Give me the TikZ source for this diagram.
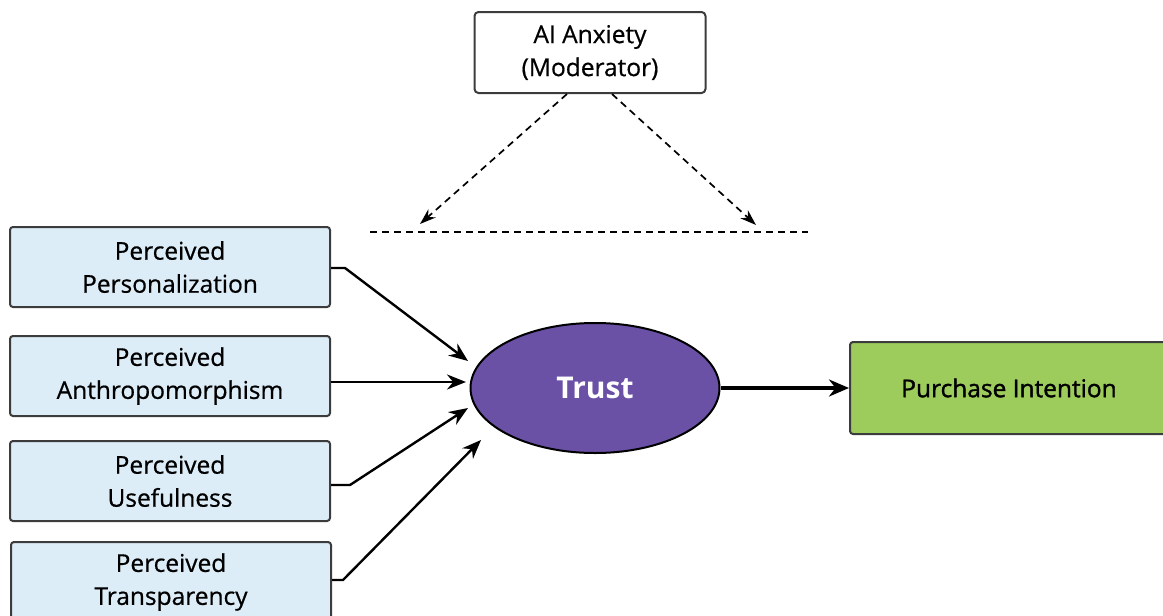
\documentclass[tikz,border=0pt]{standalone}
\usepackage{fontspec}
\setmainfont{Open Sans}
\newfontfamily\medfont{Open Sans}[FakeBold=0.6]
\newfontfamily\semifont{Open Sans}[FakeBold=1.4]
\usetikzlibrary{arrows.meta,shapes.geometric}
\definecolor{boxblue}{HTML}{DCEDF8}
\definecolor{edgegray}{HTML}{3C3C3C}
\definecolor{trustpurple}{HTML}{6A51A6}
\definecolor{piGreen}{HTML}{9DCB5C}
\tikzset{
  factor/.style={draw=edgegray, line width=2pt, fill=boxblue, rounded corners=3pt,
    minimum width=320, minimum height=80, align=center,
    font=\medfont\fontsize{24.5}{33}\selectfont},
  modbox/.style={draw=edgegray, line width=2pt, fill=white, rounded corners=4pt,
    minimum width=231, minimum height=81, align=center,
    font=\medfont\fontsize{24.5}{33}\selectfont},
  conn/.style={line width=2.4pt, -{Stealth[length=19pt,width=15pt]}},
  dconn/.style={line width=1.7pt, dash pattern=on 7pt off 5pt, -{Stealth[length=16pt,width=11pt]}},
}
\begin{document}
\begin{tikzpicture}[x=1pt,y=-1pt]
\useasboundingbox (0,0) rectangle (1163,616);
\fill[white] (0,0) rectangle (1163,616);

\node[factor] (p1) at (170,267) {Perceived\\Personalization};
\node[factor] (p2) at (170,376) {Perceived\\Anthropomorphism};
\node[factor] (p3) at (170,481) {Perceived\\Usefulness};
\node[factor] (p4) at (171,582) {Perceived\\Transparency};

\node[modbox] (mod) at (590,52.5) {AI Anxiety\\(Moderator)};

\node[ellipse, draw=black, line width=2pt, fill=trustpurple, minimum width=249, minimum height=130,
  inner sep=0pt, text=white, font={\fontsize{30}{36}\selectfont\bfseries}] (trust) at (595,388) {Trust};

\node[draw=edgegray, line width=2pt, fill=piGreen, rounded corners=3pt, minimum width=318,
  minimum height=92, anchor=west, font={\semifont\fontsize{24.5}{30}\selectfont}] (pi) at (849,388) {Purchase Intention};

% connectors
\coordinate (b1) at (345,268);
\coordinate (e1) at (468,361);
\coordinate (e2) at (466,382);
\coordinate (b3) at (350,485);
\coordinate (e3) at (468,408);
\coordinate (b4) at (343,580);
\coordinate (e4) at (481,440);
\draw[conn] (p1.east |- b1) -- (b1) -- (e1);
\draw[conn] (p2.east |- e2) -- (e2);
\draw[conn] (p3.east |- b3) -- (b3) -- (e3);
\draw[conn] (p4.east |- b4) -- (b4) -- (e4);
\draw[line width=3.2pt, -{Stealth[length=20pt,width=17pt]}] (trust.east) -- (pi.west);

% moderator
\coordinate (m1) at (370,232);
\coordinate (m2) at (808,232);
\coordinate (a1) at (420,224);
\coordinate (a2) at (756,225);
\draw[line width=1.7pt, dash pattern=on 7pt off 5pt] (m1) -- (m2);
\draw[dconn] (mod.south -| 567,0) -- (a1);
\draw[dconn] (mod.south -| 612,0) -- (a2);
\end{tikzpicture}
\end{document}
